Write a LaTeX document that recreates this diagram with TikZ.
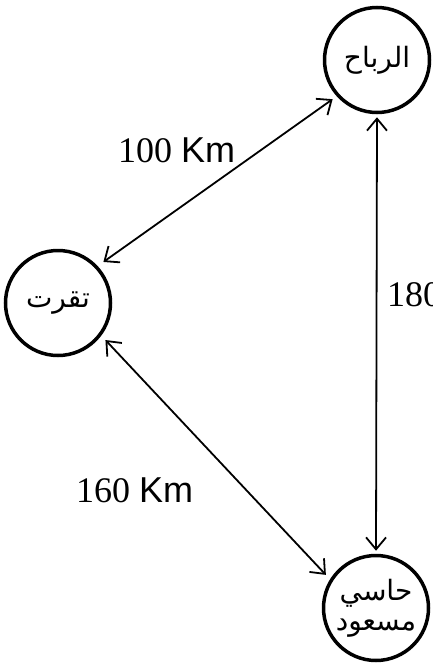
\documentclass[tikz,border=0pt]{standalone}
\usepackage{fontspec}
\setmainfont{Liberation Serif}
\newfontfamily\arsans{Liberation Sans}
\newfontfamily\arabicfont[Script=Arabic]{DejaVu Sans}
\TeXXeTstate=1
\usetikzlibrary{arrows.meta}
\begin{document}
\begin{tikzpicture}[x=1pt,y=-1pt,
  city/.style={circle, draw, line width=3.5pt, minimum size=105pt, inner sep=0pt,
    font=\arabicfont\fontsize{28}{34}\selectfont, align=center},
  link/.style={line width=1.8pt,
    {Straight Barb[length=12pt,width=20pt]}-{Straight Barb[length=12pt,width=20pt]}},
  dist/.style={font=\fontsize{36}{40}\selectfont, inner sep=0pt, anchor=west}]
\useasboundingbox (0,0) rectangle (433,664);
\clip (0,0) rectangle (433,664);
\node[city] (riyah) at (377,60) {\beginR الرباح\endR};
\node[city] (tuqurt) at (58,303) {\beginR تقرت\endR};
\node[city] (hassi) at (376,608) {\beginR حاسي\endR\\[-4pt]\beginR مسعود\endR};
\draw[link, shorten <=5pt, shorten >=7pt] (riyah.222) -- (tuqurt.43);
\draw[link, shorten <=3pt, shorten >=3pt] (riyah.south) -- (hassi.north);
\draw[link, shorten <=6pt, shorten >=6pt] (tuqurt.323) -- (hassi.148);
\node[dist] (d1) at (118,150) {100 {\arsans Km}};
\node[dist] (d2) at (76,490) {160 {\arsans Km}};
\node[dist] (d3) at (387,295) {180};
\end{tikzpicture}
\end{document}
